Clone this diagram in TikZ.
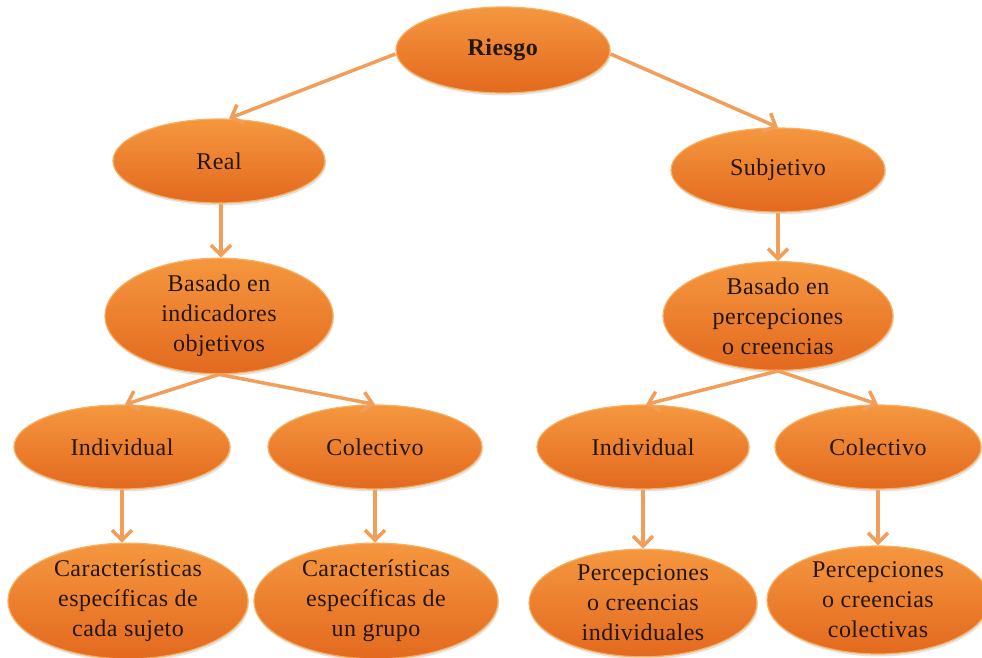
\documentclass[tikz,border=0pt]{standalone}
\usepackage{fontspec}
\setmainfont{Liberation Serif}
\usetikzlibrary{arrows.meta,shadows,shapes.geometric}
\definecolor{txt}{HTML}{24160A}
\definecolor{arr}{HTML}{F09E5A}
\definecolor{rim}{HTML}{F6B060}
\definecolor{topc}{HTML}{F5973F}
\definecolor{midc}{HTML}{EF7B2C}
\definecolor{botc}{HTML}{E3691E}
\begin{document}
\begin{tikzpicture}[x=1pt,y=1pt,
  bubble/.style={ellipse, inner sep=0pt, draw=rim, line width=1.2pt,
    top color=topc, middle color=midc, bottom color=botc,
    drop shadow={opacity=0.22, shadow xshift=1pt, shadow yshift=-2.5pt},
    text=txt, align=center,
    font=\fontsize{24}{30}\selectfont\addfontfeature{LetterSpace=2}},
  conn/.style={draw=arr, line width=3.5pt,
    -{Straight Barb[length=10pt,width=20pt]}},
]
\useasboundingbox (0,0) rectangle (982,-658);
\fill[white] (0,0) rectangle (982,-658);

\node[bubble, minimum width=214pt, minimum height=86pt] (riesgo) at (503,-50) {\textbf{Riesgo}};
\node[bubble, minimum width=212pt, minimum height=84pt] (real) at (219,-161) {Real};
\node[bubble, minimum width=214pt, minimum height=84pt] (subj) at (778,-170) {Subjetivo};
\node[bubble, minimum width=228pt, minimum height=92pt] (basI) at (219,-316) {Basado en\\indicadores\\objetivos};
\node[bubble, minimum width=230pt, minimum height=92pt] (basP) at (778,-316) {Basado en\\percepciones\\o creencias};
\node[bubble, minimum width=216pt, minimum height=84pt] (indL) at (122,-447) {Individual};
\node[bubble, minimum width=214pt, minimum height=84pt] (colL) at (375,-447) {Colectivo};
\node[bubble, minimum width=212pt, minimum height=84pt] (indR) at (643,-447) {Individual};
\node[bubble, minimum width=206pt, minimum height=84pt] (colR) at (878,-447) {Colectivo};
\node[bubble, minimum width=240pt, minimum height=108pt] (carL) at (128,-601) {Características\\específicas de\\cada sujeto};
\node[bubble, minimum width=244pt, minimum height=108pt] (carG) at (376,-601) {Características\\específicas de\\un grupo};
\node[bubble, minimum width=228pt, minimum height=104pt] (perI) at (643,-603) {Percepciones\\o creencias\\individuales};
\node[bubble, minimum width=222pt, minimum height=108pt] (perC) at (878,-600) {Percepciones\\o creencias\\colectivas};

\draw[conn] ([yshift=-4pt]riesgo.west) -- ([xshift=10pt]real.north);
\draw[conn] ([yshift=-4pt]riesgo.east) -- (subj.north);
\draw[conn] ([xshift=2pt]real.south) -- ([xshift=2pt]basI.north);
\draw[conn] (subj.south) -- (basP.north);
\draw[conn] (basI.south) -- ([xshift=3pt]indL.north);
\draw[conn] (basI.south) -- (colL.north);
\draw[conn] (basP.south) -- ([xshift=3pt]indR.north);
\draw[conn] (basP.south) -- (colR.north);
\draw[conn] (indL.south) -- (indL.south |- carL.north);
\draw[conn] (colL.south) -- (colL.south |- carG.north);
\draw[conn] (indR.south) -- (indR.south |- perI.north);
\draw[conn] (colR.south) -- (colR.south |- perC.north);
\end{tikzpicture}
\end{document}
